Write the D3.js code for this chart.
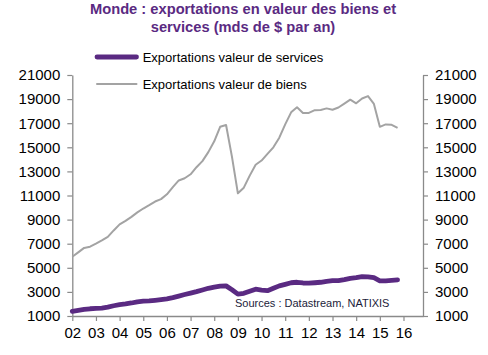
<!DOCTYPE html>
<html>
<head>
<meta charset="utf-8">
<script src="https://cdn.jsdelivr.net/npm/d3@7"></script>
<style>
  html, body { margin: 0; padding: 0; background: #fff; }
  svg { display: block; font-family: "Liberation Sans", Arial, sans-serif; }
</style>
</head>
<body>
<svg id="chart" width="488" height="355"></svg>
<script>
// ---- Data (quarterly, 2002Q1 .. 2015Q4), billions of $ per year ----
const years = d3.range(2002, 2016);
const quarters = years.flatMap(y => [1, 2, 3, 4].map(q => y + "Q" + q));
const goods = [
  5920, 6280, 6650, 6750, 7000, 7270, 7560, 8100,
  8600, 8900, 9230, 9600, 9920, 10200, 10500, 10700,
  11100, 11700, 12250, 12430, 12760, 13350, 13850, 14600,
  15500, 16700, 16850, 14200, 11180, 11650, 12650, 13550,
  13900, 14450, 15000, 15800, 16900, 17900, 18320, 17850,
  17850, 18080, 18100, 18230, 18120, 18300, 18620, 18950,
  18650, 19050, 19250, 18600, 16700, 16900, 16870, 16620
];
const services = [
  1390, 1470, 1550, 1600, 1630, 1650, 1730, 1850,
  1940, 2000, 2080, 2180, 2230, 2250, 2300, 2360,
  2420, 2520, 2650, 2780, 2900, 3020, 3160, 3300,
  3400, 3480, 3500, 3180, 2820, 2880, 3050, 3220,
  3150, 3100, 3300, 3500, 3630, 3760, 3800, 3740,
  3720, 3760, 3800, 3880, 3930, 3930, 4020, 4130,
  4180, 4260, 4250, 4180, 3920, 3920, 3950, 3990
];
const yTicks = [1000, 3000, 5000, 7000, 9000, 11000, 13000, 15000, 17000, 19000, 21000];
const xTickLabels = ["02","03","04","05","06","07","08","09","10","11","12","13","14","15","16"];
const titleLines = ["Monde : exportations en valeur des biens et", "services (mds de $ par an)"];
const legendLabels = ["Exportations valeur de services", "Exportations valeur de biens"];
const sourceText = "Sources : Datastream, NATIXIS";

// ---- Styles ----
const purple = "#5a2a82";
const grey = "#a3a3a3";
const axisColor = "#8a8a8a";

const svg = d3.select("#chart");

const x = d3.scaleLinear().domain([0, 59.3]).range([72.3, 423]);
const y = d3.scaleLinear().domain([1000, 21000]).range([316, 75]);

// Title
svg.append("g").selectAll("text").data(titleLines).join("text")
  .attr("x", 243).attr("y", (d, i) => 14 + i * 17.5)
  .attr("text-anchor", "middle")
  .attr("font-size", "14.7px").attr("font-weight", "bold")
  .attr("fill", purple)
  .text(d => d);

// Axes
const tickIdx = xTickLabels.map((d, i) => i * 4);
const xAxis = d3.axisBottom(x).tickValues(tickIdx).tickFormat((d, i) => xTickLabels[i]).tickSize(5).tickPadding(6).tickSizeOuter(0);
const gx = svg.append("g").attr("transform", `translate(0,${y(1000)})`).call(xAxis);

const yAxisL = d3.axisLeft(y).tickValues(yTicks).tickFormat(d3.format("d")).tickSize(5).tickPadding(7).tickSizeOuter(0);
const gyl = svg.append("g").attr("transform", `translate(${x(0)},0)`).call(yAxisL);

const yAxisR = d3.axisRight(y).tickValues(yTicks).tickFormat(d3.format("d")).tickSize(5).tickPadding(7).tickSizeOuter(0);
const gyr = svg.append("g").attr("transform", `translate(${x(59.3)},0)`).call(yAxisR);

[gx, gyl, gyr].forEach(g => {
  g.selectAll(".domain").attr("stroke", axisColor).attr("stroke-width", 1.3);
  g.selectAll(".tick line").attr("stroke", axisColor).attr("stroke-width", 1.2);
  g.selectAll(".tick text").attr("fill", "#000").attr("font-size", "15px")
    .attr("font-family", "'Liberation Sans', Arial, sans-serif");
});

// Lines
const line = d3.line().x((d, i) => x(i)).y(d => y(d));
svg.append("path").datum(goods)
  .attr("fill", "none").attr("stroke", grey).attr("stroke-width", 2)
  .attr("stroke-linejoin", "round").attr("d", line);
svg.append("path").datum(services)
  .attr("fill", "none").attr("stroke", purple).attr("stroke-width", 4.8)
  .attr("stroke-linejoin", "round").attr("stroke-linecap", "round").attr("d", line);

// Legend
const legend = svg.append("g");
const legendItems = [
  { label: legendLabels[0], color: purple, w: 4.8, yy: 57 },
  { label: legendLabels[1], color: grey, w: 2, yy: 84 }
];
legendItems.forEach(it => {
  legend.append("line").attr("x1", 97).attr("x2", 136.5)
    .attr("y1", it.yy).attr("y2", it.yy)
    .attr("stroke", it.color).attr("stroke-width", it.w).attr("stroke-linecap", "round");
  legend.append("text").attr("x", 142.7).attr("y", it.yy).attr("dy", "0.35em")
    .attr("font-size", "13px").attr("fill", "#000").text(it.label);
});

// Sources
svg.append("text").attr("x", 235).attr("y", 307)
  .attr("font-size", "11px").attr("fill", "#1c1c3a").text(sourceText);
</script>
</body>
</html>
